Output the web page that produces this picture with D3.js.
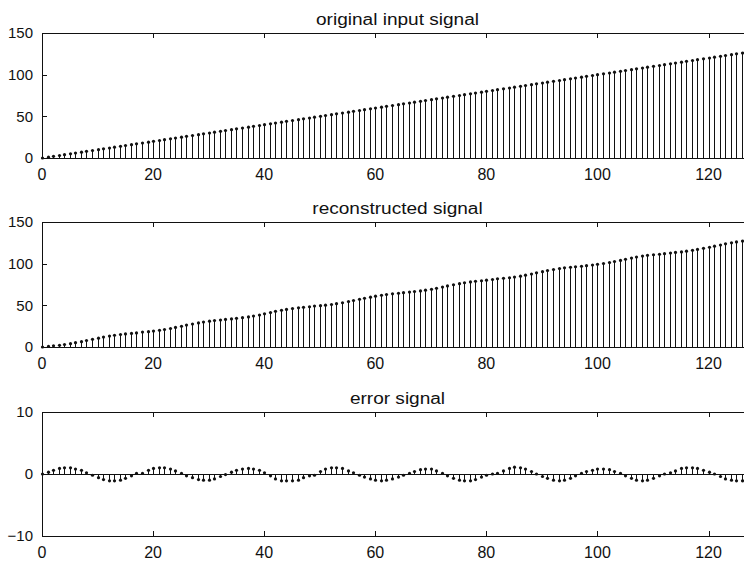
<!DOCTYPE html>
<html>
<head>
<meta charset="utf-8">
<script src="https://cdn.jsdelivr.net/npm/d3@7"></script>
<style>
  html, body { margin: 0; padding: 0; background: #fff; }
  svg { display: block; font-family: "Liberation Sans", Arial, Helvetica, sans-serif; }
</style>
</head>
<body>
<svg id="chart" width="744" height="565"></svg>
<script>
// Sample index n = 0 .. 127
const samples = [
  0,1,2,3,4,5,6,7,8,9,10,11,12,13,14,15,16,17,18,19,20,21,22,23,24,25,26,27,28,29,30,31,
  32,33,34,35,36,37,38,39,40,41,42,43,44,45,46,47,48,49,50,51,52,53,54,55,56,57,58,59,60,61,62,63,
  64,65,66,67,68,69,70,71,72,73,74,75,76,77,78,79,80,81,82,83,84,85,86,87,88,89,90,91,92,93,94,95,
  96,97,98,99,100,101,102,103,104,105,106,107,108,109,110,111,112,113,114,115,116,117,118,119,120,121,122,123,124,125,126,127
];

// Ramp input x[n]
const inputSignal = [
  0,1,2,3,4,5,6,7,8,9,10,11,12,13,14,15,16,17,18,19,20,21,22,23,24,25,26,27,28,29,30,31,
  32,33,34,35,36,37,38,39,40,41,42,43,44,45,46,47,48,49,50,51,52,53,54,55,56,57,58,59,60,61,62,63,
  64,65,66,67,68,69,70,71,72,73,74,75,76,77,78,79,80,81,82,83,84,85,86,87,88,89,90,91,92,93,94,95,
  96,97,98,99,100,101,102,103,104,105,106,107,108,109,110,111,112,113,114,115,116,117,118,119,120,121,122,123,124,125,126,127
];

// Reconstructed output y[n]
const reconstructedSignal = [
  0.0,0.7,1.4,2.1,3.0,4.0,5.2,6.4,7.8,9.2,10.6,11.9,13.1,14.1,15.0,15.7,
  16.3,16.9,17.9,18.4,19.1,20.0,21.0,22.2,23.5,24.9,26.3,27.6,28.9,30.0,31.0,31.8,
  32.4,33.1,33.7,34.4,35.2,36.1,37.2,38.4,39.8,41.3,42.8,44.1,45.1,46.1,47.0,47.6,
  48.3,49.2,49.6,50.2,51.0,52.0,53.1,54.5,55.8,57.2,58.5,59.8,61.0,62.1,63.0,63.8,
  64.5,65.2,65.9,66.6,67.3,68.2,69.2,70.5,71.9,73.3,74.7,76.0,77.1,78.1,78.9,79.5,
  80.2,81.0,81.9,82.5,83.1,83.9,85.0,86.2,87.6,89.0,90.4,91.7,93.0,94.1,95.0,95.7,
  96.3,96.9,97.6,98.4,99.2,100.2,101.3,102.6,103.9,105.3,106.7,108.0,109.1,110.0,110.7,111.3,
  112.0,112.8,113.5,114.1,115.0,116.0,117.1,118.4,119.7,121.0,122.4,123.8,125.0,126.1,127.1,128.0
];

// Error e[n] = x[n] - y[n]
const errorSignal = [
  0.0,0.3,0.6,0.9,1.0,1.0,0.8,0.6,0.2,-0.2,-0.6,-0.9,-1.1,-1.1,-1.0,-0.7,
  -0.3,0.1,0.1,0.6,0.9,1.0,1.0,0.8,0.5,0.1,-0.3,-0.6,-0.9,-1.0,-1.0,-0.8,
  -0.4,-0.1,0.3,0.6,0.8,0.9,0.8,0.6,0.2,-0.3,-0.8,-1.1,-1.1,-1.1,-1.0,-0.6,
  -0.3,-0.2,0.4,0.8,1.0,1.0,0.9,0.5,0.2,-0.2,-0.5,-0.8,-1.0,-1.1,-1.0,-0.8,
  -0.5,-0.2,0.1,0.4,0.7,0.8,0.8,0.5,0.1,-0.3,-0.7,-1.0,-1.1,-1.1,-0.9,-0.5,
  -0.2,0.0,0.1,0.5,0.9,1.1,1.0,0.8,0.4,0.0,-0.4,-0.7,-1.0,-1.1,-1.0,-0.7,
  -0.3,0.1,0.4,0.6,0.8,0.8,0.7,0.4,0.1,-0.3,-0.7,-1.0,-1.1,-1.0,-0.7,-0.3,
  0.0,0.2,0.5,0.9,1.0,1.0,0.9,0.6,0.3,0.0,-0.4,-0.8,-1.0,-1.1,-1.1,-1.0
];

const xTicks = [0, 20, 40, 60, 80, 100, 120];
const rampTicks = [0, 50, 100, 150];
const errorTicks = [-10, 0, 10];
const titles = ["original input signal", "reconstructed signal", "error signal"];

const panels = [
  { title: titles[0], values: inputSignal, domain: [0, 150], ticks: rampTicks, top: 33, bottom: 158 },
  { title: titles[1], values: reconstructedSignal, domain: [0, 150], ticks: rampTicks, top: 222, bottom: 347 },
  { title: titles[2], values: errorSignal, domain: [-10, 10], ticks: errorTicks, top: 412, bottom: 536 }
];

const svg = d3.select("#chart");
const left = 42, right = 753;
const x = d3.scaleLinear().domain([0, 128]).range([left, right]);
const ink = "#111";
const tickLen = 5;
const crisp = v => Math.round(v) + 0.5;

panels.forEach(p => {
  const y = d3.scaleLinear().domain(p.domain).range([p.bottom, p.top]);
  const g = svg.append("g");

  // zero baseline
  g.append("line")
    .attr("x1", left).attr("x2", right)
    .attr("y1", crisp(y(0))).attr("y2", crisp(y(0)))
    .attr("stroke", ink).attr("stroke-width", 1)
    .attr("shape-rendering", "crispEdges");

  // stems
  g.selectAll("line.stem")
    .data(samples)
    .join("line")
    .attr("class", "stem")
    .attr("x1", i => crisp(x(i))).attr("x2", i => crisp(x(i)))
    .attr("y1", y(0)).attr("y2", i => y(p.values[i]))
    .attr("stroke", ink).attr("stroke-width", 1)
    .attr("shape-rendering", "crispEdges");

  // stem heads
  g.selectAll("circle.head")
    .data(samples)
    .join("circle")
    .attr("class", "head")
    .attr("cx", i => crisp(x(i)))
    .attr("cy", i => y(p.values[i]))
    .attr("r", 1.6)
    .attr("fill", ink);

  // box
  g.append("rect")
    .attr("x", crisp(left)).attr("y", crisp(p.top))
    .attr("width", right - left).attr("height", p.bottom - p.top)
    .attr("fill", "none").attr("stroke", ink).attr("stroke-width", 1)
    .attr("shape-rendering", "crispEdges");

  // x ticks (inward on bottom and top) and labels
  xTicks.forEach(t => {
    const xp = crisp(x(t));
    g.append("line").attr("x1", xp).attr("x2", xp)
      .attr("y1", p.bottom).attr("y2", p.bottom - tickLen)
      .attr("stroke", ink).attr("shape-rendering", "crispEdges");
    g.append("line").attr("x1", xp).attr("x2", xp)
      .attr("y1", p.top).attr("y2", p.top + tickLen)
      .attr("stroke", ink).attr("shape-rendering", "crispEdges");
    g.append("text")
      .attr("x", x(t)).attr("y", p.bottom + 22)
      .attr("text-anchor", "middle")
      .attr("font-size", 16)
      .attr("fill", ink)
      .text(t);
  });

  // y ticks (inward on left and right) and labels
  p.ticks.forEach(t => {
    const yp = crisp(y(t));
    g.append("line").attr("x1", left).attr("x2", left + tickLen)
      .attr("y1", yp).attr("y2", yp)
      .attr("stroke", ink).attr("shape-rendering", "crispEdges");
    g.append("line").attr("x1", right).attr("x2", right - tickLen)
      .attr("y1", yp).attr("y2", yp)
      .attr("stroke", ink).attr("shape-rendering", "crispEdges");
    g.append("text")
      .attr("x", 33).attr("y", y(t))
      .attr("dy", "0.36em")
      .attr("text-anchor", "end")
      .attr("font-size", 15)
      .attr("fill", ink)
      .text(d3.format("d")(t));
  });

  // title
  const cx = (left + right) / 2;
  g.append("text")
    .attr("transform", `translate(${cx},${p.top - 8}) scale(1.19,1)`)
    .attr("text-anchor", "middle")
    .attr("font-size", 16)
    .attr("fill", ink)
    .text(p.title);
});
</script>
</body>
</html>
